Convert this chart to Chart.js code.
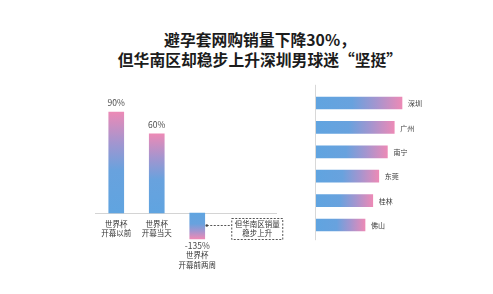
<!DOCTYPE html>
<html><head><meta charset="utf-8">
<script src="https://cdn.jsdelivr.net/npm/chart.js@4.4.1/dist/chart.umd.min.js"></script>
<style>
html,body{margin:0;padding:0;background:#fff;width:493px;height:294px;overflow:hidden;}
#title{position:absolute;left:0;width:520px;top:30px;text-align:center;font-family:"Noto Sans CJK SC";font-weight:700;font-size:15.8px;line-height:20px;color:#1c1c1c;}
#c1{position:absolute;left:60px;top:80px;}
#c2{position:absolute;left:300px;top:80px;}
</style></head><body>
<div id="title">避孕套网购销量下降30%，<br>但华南区却稳步上升深圳男球迷“坚挺”</div>
<canvas id="c1" width="240" height="200"></canvas>
<canvas id="c2" width="193" height="170"></canvas>
<script>
// ---- data ----
const leftCategories = [['世界杯','开幕以前'], ['世界杯','开幕当天'], ['世界杯','开幕前两周']];
const leftValueLabels = ['90%', '60%', '-135%'];
// bar lengths as drawn in the (non-proportional) original graphic
const leftBarLengths = [90, 70.5, -23];
const noteLines = ['但华南区销量', '稳步上升'];

const rightCities = ['深圳', '广州', '南宁', '东莞', '桂林', '佛山'];
const rightValues = [100, 91, 83, 73, 66, 57];

const FONT = '"Noto Sans CJK SC", "Noto Sans", sans-serif';
const BLUE = '#60a4e0';

function makeGrad(g) {
  g.addColorStop(0, BLUE);
  g.addColorStop(0.42, '#68a2de');
  g.addColorStop(0.7, '#a495cf');
  g.addColorStop(1, '#ec8ab6');
  return g;
}

// ---- left chart ----
const leftPlugin = {
  id: 'leftDecor',
  beforeDatasetsDraw(chart) {
    const c = chart.ctx, y = chart.scales.y, a = chart.chartArea;
    const y0 = Math.round(y.getPixelForValue(0)) + 0.5;
    c.save();
    c.strokeStyle = '#d4d4d4'; c.lineWidth = 1;
    c.beginPath(); c.moveTo(a.left - 1, y0); c.lineTo(a.left + 181, y0); c.stroke();
    c.restore();
  },
  afterDatasetsDraw(chart) {
    const c = chart.ctx, y = chart.scales.y;
    const meta = chart.getDatasetMeta(0);
    const y0 = y.getPixelForValue(0);
    c.save();
    c.textAlign = 'center'; c.textBaseline = 'middle';
    meta.data.forEach((bar, i) => {
      const v = leftBarLengths[i];
      const tip = y.getPixelForValue(v);
      c.fillStyle = '#4a4a4a';
      c.font = '8.5px ' + FONT;
      if (v >= 0) {
        c.fillText(leftValueLabels[i], bar.x, tip - 9);
        c.fillStyle = '#333';
        c.font = '7.5px ' + FONT;
        leftCategories[i].forEach((t, k) => c.fillText(t, bar.x, y0 + 11 + k * 9.5));
      } else {
        c.fillText(leftValueLabels[i], bar.x, tip + 7);
        c.fillStyle = '#333';
        c.font = '7.5px ' + FONT;
        leftCategories[i].forEach((t, k) => c.fillText(t, bar.x, tip + 16.5 + k * 9.5));
        // annotation
        const bx = bar.x + 7.5;
        const ly = Math.round(y0 + 12) + 0.5;
        const boxL = bx + 27, boxT = Math.round(y0 + 5) + 0.5, boxW = 51, boxH = 21;
        c.strokeStyle = '#555'; c.lineWidth = 1; c.setLineDash([2, 1.5]);
        c.beginPath(); c.moveTo(bx + 2, ly); c.lineTo(boxL, ly); c.stroke();
        c.strokeRect(boxL, boxT, boxW, boxH);
        c.setLineDash([]);
        c.fillStyle = '#444';
        c.beginPath(); c.arc(bx + 2, ly, 1.3, 0, Math.PI * 2); c.fill();
        c.fillStyle = '#333';
        noteLines.forEach((t, k) => c.fillText(t, boxL + boxW / 2, boxT + 6 + k * 9));
      }
    });
    c.restore();
  }
};

new Chart(document.getElementById('c1'), {
  type: 'bar',
  data: {
    labels: leftCategories.map(l => l.join('')),
    datasets: [{
      data: leftBarLengths,
      barThickness: 15,
      borderWidth: 0,
      backgroundColor: (ctx) => {
        const chart = ctx.chart;
        if (!chart.chartArea || ctx.raw === undefined) return BLUE;
        const y = chart.scales.y;
        const g = chart.ctx.createLinearGradient(0, y.getPixelForValue(0), 0, y.getPixelForValue(ctx.raw));
        return makeGrad(g);
      }
    }]
  },
  options: {
    responsive: false, animation: false,
    layout: { padding: { left: 36, right: 82.5, top: 0, bottom: 0 } },
    plugins: { legend: { display: false }, tooltip: { enabled: false } },
    scales: {
      x: { display: false },
      y: { display: false, min: -59.7, max: 118.5 }
    }
  },
  plugins: [leftPlugin]
});

// ---- right chart ----
const rightPlugin = {
  id: 'rightDecor',
  beforeDatasetsDraw(chart) {
    const c = chart.ctx, a = chart.chartArea;
    c.save();
    c.strokeStyle = '#d8d8d8'; c.lineWidth = 1;
    const x = Math.round(a.left - 1) + 0.5;
    c.beginPath(); c.moveTo(x, a.top - 6); c.lineTo(x, a.bottom + 3); c.stroke();
    c.restore();
  },
  afterDatasetsDraw(chart) {
    const c = chart.ctx;
    const meta = chart.getDatasetMeta(0);
    c.save();
    c.textAlign = 'left'; c.textBaseline = 'middle';
    c.fillStyle = '#3a3a3a';
    c.font = '7px ' + FONT;
    meta.data.forEach((bar, i) => c.fillText(rightCities[i], bar.x + 6, bar.y + 0.5));
    c.restore();
  }
};

new Chart(document.getElementById('c2'), {
  type: 'bar',
  data: {
    labels: rightCities,
    datasets: [{
      data: rightValues,
      barThickness: 12,
      borderWidth: 0,
      backgroundColor: (ctx) => {
        const chart = ctx.chart;
        if (!chart.chartArea || ctx.raw === undefined) return BLUE;
        const x = chart.scales.x;
        const g = chart.ctx.createLinearGradient(x.getPixelForValue(0), 0, x.getPixelForValue(ctx.raw), 0);
        return makeGrad(g);
      }
    }]
  },
  options: {
    indexAxis: 'y',
    responsive: false, animation: false,
    layout: { padding: { left: 16, right: 5, top: 10.8, bottom: 12.8 } },
    plugins: { legend: { display: false }, tooltip: { enabled: false } },
    scales: {
      x: { display: false, min: 0, max: 200 },
      y: { display: false }
    }
  },
  plugins: [rightPlugin]
});
</script>
</body></html>
